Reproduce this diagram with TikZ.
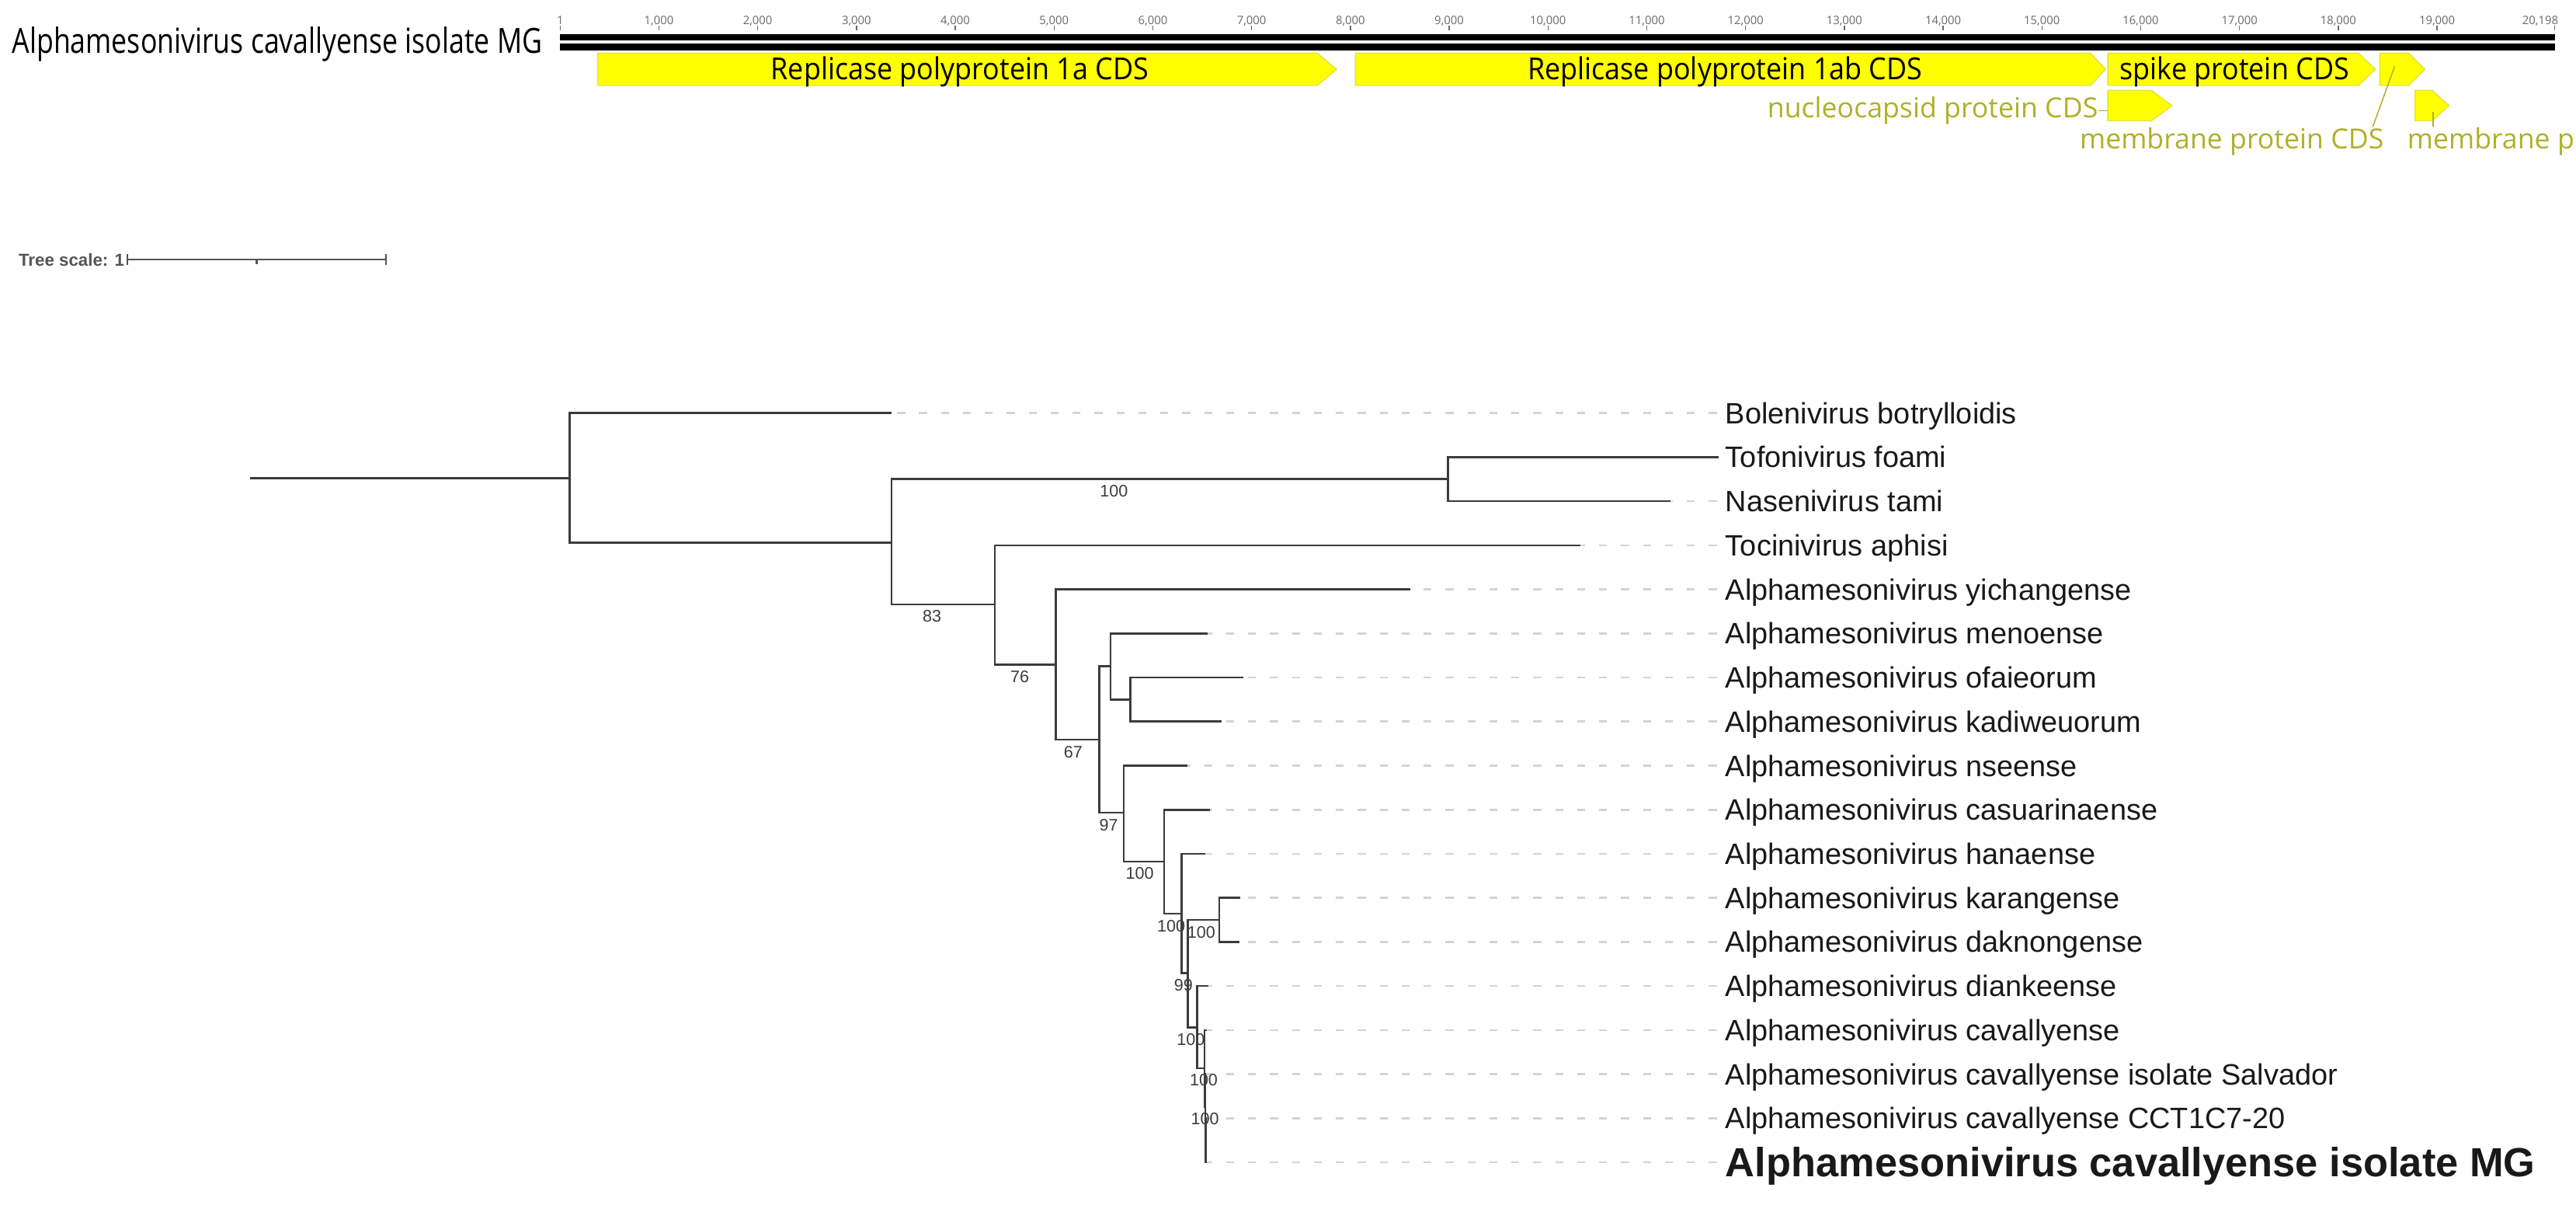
\documentclass[tikz,border=0pt]{standalone}
\usepackage{fontspec}
\setmainfont{Liberation Sans}
\newfontfamily\seqfont{Open Sans}

\definecolor{cdsyellow}{RGB}{255,255,0}
\definecolor{cdsedge}{RGB}{228,228,60}
\definecolor{cdslabel}{RGB}{176,176,40}
\definecolor{branchgray}{RGB}{60,60,60}
\definecolor{dashgray}{RGB}{212,212,212}
\definecolor{rulergray}{RGB}{105,105,105}
\definecolor{scalegray}{RGB}{85,85,85}

\newcommand{\squeeze}[2]{\scalebox{#1}[1]{#2}}

\begin{document}
\begin{tikzpicture}[x=0.02cm, y=-0.02cm,
    branch/.style={draw=branchgray, line width=0.7pt},
    leader/.style={draw=dashgray, line width=0.7pt, dash pattern=on 2.8pt off 4.8pt},
    leaf/.style={anchor=base west, inner sep=0pt, text=black!90, font=\fontsize{10.2}{12}\selectfont},
    boot/.style={inner sep=0pt, text=branchgray, font=\fontsize{5.8}{7}\selectfont},
    cds/.style={fill=cdsyellow, draw=cdsedge, line width=0.4pt},
    cdstext/.style={anchor=base, inner sep=0pt, font=\seqfont\fontsize{10.5}{12}\selectfont},
    outtext/.style={anchor=base west, inner sep=0pt, text=cdslabel, font=\seqfont\fontsize{9.6}{11}\selectfont},
    outline/.style={draw=cdslabel, line width=0.4pt},
    tick/.style={anchor=base, inner sep=0pt, text=rulergray, font=\seqfont\fontsize{4}{5}\selectfont},
    scalebar/.style={draw=scalegray, line width=0.6pt}]
  \fill[white] (0,0) rectangle (1568,733);
  \clip (0,0) rectangle (1568,733);

  % sequence header
  \node[anchor=base west, inner sep=0pt, font=\seqfont\fontsize{12}{14}\selectfont] (seqname) at (7,32.3)
    {\squeeze{0.8}{Alphamesonivirus cavallyense isolate MG}};
  \fill (341,20.7) rectangle (1555.4,24.7);
  \fill (341,26.6) rectangle (1555.4,30.7);
  \node[tick] (t0) at (341,15) {1};
  \draw[rulergray, line width=0.4pt] (341,15.8) -- ++(0,2.7);
  \foreach \k in {1,...,19} {
    \node[tick] (t\k) at ({341+\k*60.13-0.06},15) {\k,000};
    \draw[rulergray, line width=0.4pt] ({341+\k*60.13-0.06},15.8) -- ++(0,2.7);
  }
  \node[tick, anchor=base east] (tend) at (1557.5,15) {20,198};
  \draw[rulergray, line width=0.4pt] (1555,15.8) -- ++(0,2.7);

  % annotations
  \draw[cds] (363.8,32.3) -- (801.7,32.3) -- (813.6,42.2) -- (801.7,52) -- (363.8,52) -- cycle;
  \draw[cds] (825,32.3) -- (1272.4,32.3) -- (1281.6,42.2) -- (1272.4,52) -- (825,52) -- cycle;
  \draw[cds] (1283,32.3) -- (1435.6,32.3) -- (1445.8,42.2) -- (1435.6,52) -- (1283,52) -- cycle;
  \draw[cds] (1448.5,32.3) -- (1466,32.3) -- (1476,42.2) -- (1466,52) -- (1448.5,52) -- cycle;
  \draw[cds] (1283,55) -- (1309.6,55) -- (1322,64.3) -- (1309.6,73.5) -- (1283,73.5) -- cycle;
  \draw[cds] (1470,55) -- (1480.5,55) -- (1490.6,64.3) -- (1480.5,73.5) -- (1470,73.5) -- cycle;
  \coordinate (ncapcds) at (1283,64.3);
  \coordinate (memcdsA) at (1457.6,40.3);
  \coordinate (memcdsB) at (1481,68);

  \node[cdstext] (orf1a) at (584.2,48.4) {\squeeze{0.92}{Replicase polyprotein 1a CDS}};
  \node[cdstext] (orf1ab) at (1050,48.4) {\squeeze{0.92}{Replicase polyprotein 1ab CDS}};
  \node[cdstext, anchor=base west] (spike) at (1290,48.4) {\squeeze{0.92}{spike protein CDS}};
  \node[outtext, anchor=base east] (ncap) at (1277.3,71.8) {nucleocapsid protein CDS};
  \node[outtext] (memA) at (1265.6,90.4) {membrane protein CDS};
  \node[outtext] (memB) at (1465,90.4) {membrane protein CDS};
  \draw[outline] (ncap.east) -- (ncap.east -| ncapcds);
  \draw[outline] ([xshift=-0.14cm]memA.north east) -- (memcdsA);
  \draw[outline] (memcdsB) -- (memcdsB |- memB.north);

  % tree scale
  \node[anchor=east, inner sep=0pt, text=scalegray, font=\bfseries\fontsize{6}{7}\selectfont] (scaletxt) at (76,158) {Tree scale: 1};
  \coordinate (sb0) at (77.5,158);
  \coordinate (sbm) at (156.2,158);
  \coordinate (sb1) at (235,158);
  \draw[scalebar] (sb0) -- (sb1);
  \draw[scalebar] ([yshift=0.066cm]sb0) -- ([yshift=-0.066cm]sb0);
  \draw[scalebar] ([yshift=0.066cm]sb1) -- ([yshift=-0.066cm]sb1);
  \draw[scalebar] (sbm) -- ([yshift=-0.05cm]sbm);

  % inner nodes
  \coordinate (root) at (152,291);
  \coordinate (nA) at (346.8,291);
  \coordinate (nB) at (542.7,330.1);
  \coordinate (nC) at (881.5,291.5);
  \coordinate (nD) at (605.5,367.8);
  \coordinate (nE) at (642.7,404.4);
  \coordinate (nF) at (669.2,450);
  \coordinate (nG) at (676,405.4);
  \coordinate (nGa) at (688,425.8);
  \coordinate (nH) at (684,494.5);
  \coordinate (nI) at (708.5,524.3);
  \coordinate (nJ) at (719.3,556);
  \coordinate (nK) at (723,592);
  \coordinate (nM) at (742.2,559.7);
  \coordinate (nN) at (728.8,625.3);
  \coordinate (nO) at (733.2,650);
  \coordinate (nP) at (733.6,673.6);
  \coordinate (nQ) at (734,693.8);

  % leaves
  \foreach \tip/\len/\name [count=\i] in {
      bole/542.7/Bolenivirus botrylloidis,
      tofo/1046/Tofonivirus foami,
      nase/1016.8/Nasenivirus tami,
      toci/962/Tocinivirus aphisi,
      yich/858.3/Alphamesonivirus yichangense,
      meno/735.1/Alphamesonivirus menoense,
      ofai/757/Alphamesonivirus ofaieorum,
      kadi/743.4/Alphamesonivirus kadiweuorum,
      nsee/723/Alphamesonivirus nseense,
      casu/736.7/Alphamesonivirus casuarinaense,
      hana/733.5/Alphamesonivirus hanaense,
      kara/755/Alphamesonivirus karangense,
      dakn/754.5/Alphamesonivirus daknongense,
      dian/735.6/Alphamesonivirus diankeense,
      cava/734.8/Alphamesonivirus cavallyense,
      salv/734/Alphamesonivirus cavallyense isolate Salvador,
      cct/734.3/Alphamesonivirus cavallyense CCT1C7-20} {
    \coordinate (\tip) at (\len,{251.3+(\i-1)*26.82});
    \coordinate (\tip-end) at (1045,{251.3+(\i-1)*26.82});
    \node[leaf] (\tip-lab) at (1050,{257.7+(\i-1)*26.82}) {\name};
    \draw[leader] (\tip-end) -- (\tip);
  }
  \coordinate (mg) at (734.5,707.2);
  \coordinate (mg-end) at (1045,707.2);
  \node[leaf, font=\bfseries\fontsize{14.1}{16}\selectfont] (mg-lab) at (1050,716.1) {Alphamesonivirus cavallyense isolate MG};
  \draw[leader] (mg-end) -- (mg);

  % branches
  \draw[branch] (root) -- (nA);
  \foreach \p/\c in {nA/bole, nA/nB, nB/nC, nB/nD, nC/tofo, nC/nase, nD/toci, nD/nE,
      nE/yich, nE/nF, nF/nG, nF/nH, nG/meno, nG/nGa, nGa/ofai, nGa/kadi, nH/nsee, nH/nI,
      nI/casu, nI/nJ, nJ/hana, nJ/nK, nK/nM, nK/nN, nM/kara, nM/dakn, nN/dian, nN/nO,
      nO/cava, nO/nP, nP/salv, nP/nQ, nQ/cct, nQ/mg}
    \draw[branch] (\p) |- (\c);

  % bootstrap
  \node[boot] (b1) at (678,298.6) {100};
  \node[boot] (b2) at (567.3,375) {83};
  \node[boot] (b3) at (620.7,411.6) {76};
  \node[boot] (b4) at (653.2,457.7) {67};
  \node[boot] (b5) at (674.8,502.2) {97};
  \node[boot] (b6) at (693.8,531.5) {100};
  \node[boot] (b7) at (712.9,563.5) {100};
  \node[boot] (b8) at (731.2,567.3) {100};
  \node[boot] (b9) at (720.4,599.6) {99};
  \node[boot] (b10) at (724.8,632.7) {100};
  \node[boot] (b11) at (732.7,657.1) {100};
  \node[boot] (b12) at (733.5,680.7) {100};
\end{tikzpicture}
\end{document}
